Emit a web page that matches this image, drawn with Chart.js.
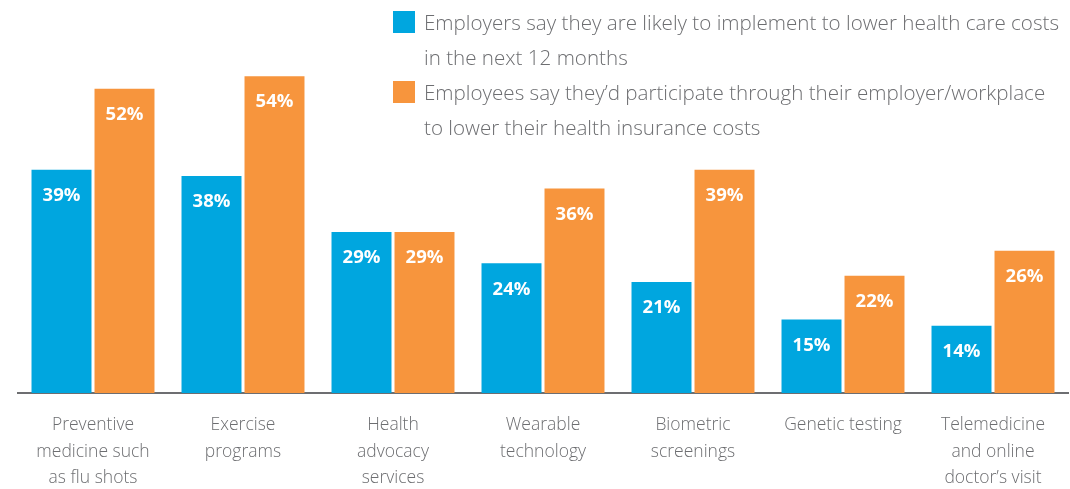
<!DOCTYPE html>
<html>
<head>
<meta charset="utf-8">
<script src="https://cdn.jsdelivr.net/npm/chart.js@4/dist/chart.umd.min.js"></script>
<style>
  html, body { margin: 0; padding: 0; background: #fff; }
  #wrap { position: relative; width: 1070px; height: 489px; }
  .legend { position: absolute; left: 393px; font-family: "Open Sans", Roboto, sans-serif; font-weight: 300; font-size: 20.6px; color: #6d6e71; white-space: nowrap; }
  .legend .item { position: relative; padding-left: 31px; line-height: 35px; }
  .legend .sw { position: absolute; left: 0; top: 6px; width: 22px; height: 22px; }
</style>
</head>
<body>
<div id="wrap">
  <canvas id="chart"></canvas>
  <div class="legend" id="legend" style="top:5px"></div>
</div>
<script>
  // categories (multi-line tick labels)
  const categories = [
    ["Preventive", "medicine such", "as flu shots"],
    ["Exercise", "programs"],
    ["Health", "advocacy", "services"],
    ["Wearable", "technology"],
    ["Biometric", "screenings"],
    ["Genetic testing"],
    ["Telemedicine", "and online", "doctor\u2019s visit"],
  ];
  const employerValues = [39, 38, 29, 24, 21, 15, 14];
  const employeeValues = [52, 54, 29, 36, 39, 22, 26];
  const seriesLabels = [
    ["Employers say they are likely to implement to lower health care costs", "in the next 12 months"],
    ["Employees say they\u2019d participate through their employer/workplace", "to lower their health insurance costs"],
  ];
  const colors = ["#00a6df", "#f7953d"];

  // html legend
  const legendEl = document.getElementById("legend");
  seriesLabels.forEach(function (lines, i) {
    const item = document.createElement("div");
    item.className = "item";
    const sw = document.createElement("span");
    sw.className = "sw";
    sw.style.background = colors[i];
    item.appendChild(sw);
    item.appendChild(document.createTextNode(lines[0]));
    item.appendChild(document.createElement("br"));
    item.appendChild(document.createTextNode(lines[1]));
    legendEl.appendChild(item);
  });

  const barLabels = {
    id: "barLabels",
    afterDatasetsDraw(chart) {
      const ctx = chart.ctx;
      ctx.save();
      ctx.fillStyle = "#ffffff";
      ctx.font = "700 18.5px 'Open Sans', sans-serif";
      ctx.textAlign = "center";
      ctx.textBaseline = "middle";
      chart.data.datasets.forEach(function (ds, di) {
        chart.getDatasetMeta(di).data.forEach(function (bar, i) {
          ctx.fillText(ds.data[i] + "%", bar.x, bar.y + 26);
        });
      });
      ctx.restore();
    },
  };

  new Chart(document.getElementById("chart"), {
    type: "bar",
    data: {
      labels: categories,
      datasets: [
        { label: seriesLabels[0].join(" "), data: employerValues, backgroundColor: colors[0] },
        { label: seriesLabels[1].join(" "), data: employeeValues, backgroundColor: colors[1] },
      ],
    },
    options: {
      responsive: true,
      maintainAspectRatio: false,
      animation: false,
      layout: { padding: { left: 18, right: 2, top: 40, bottom: 0 } },
      datasets: { bar: { categoryPercentage: 0.84, barPercentage: 0.952 } },
      plugins: { legend: { display: false }, tooltip: { enabled: false } },
      scales: {
        x: {
          grid: { display: false, drawTicks: false },
          border: { display: true, color: "#6d6e71", width: 2 },
          ticks: {
            color: "#6d6e71",
            padding: 19,
            maxRotation: 0,
            autoSkip: false,
            font: { family: "'Open Sans', Roboto, sans-serif", weight: 300, size: 17.5, lineHeight: 1.52 },
          },
          afterFit(scale) { scale.height = 96; },
        },
        y: { display: false, min: 3.2, max: 59.8 },
      },
    },
    plugins: [barLabels],
  });
</script>
</body>
</html>
